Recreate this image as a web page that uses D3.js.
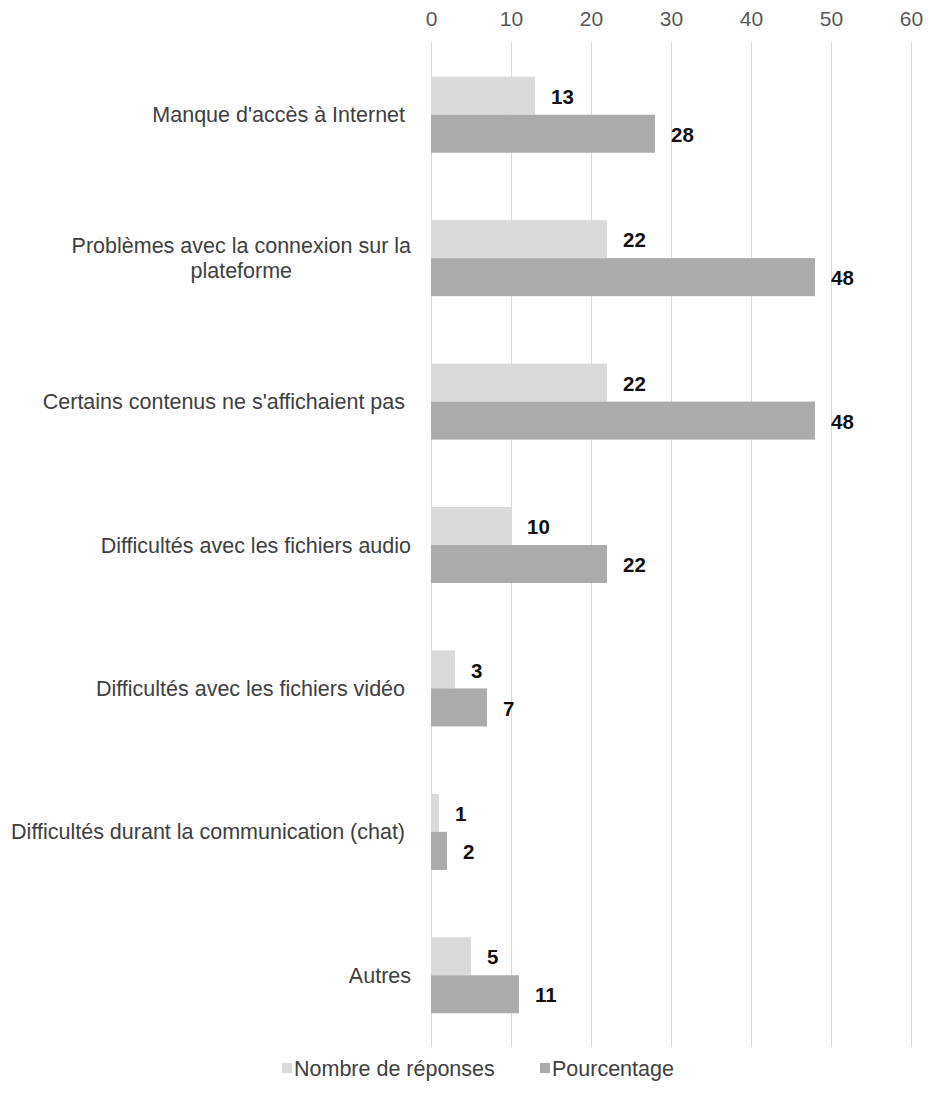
<!DOCTYPE html>
<html>
<head>
<meta charset="utf-8">
<script src="https://cdn.jsdelivr.net/npm/d3@7"></script>
<style>
  html, body { margin: 0; padding: 0; background: #ffffff; }
  svg { display: block; font-family: "Liberation Sans", Arial, sans-serif; }
</style>
</head>
<body>
<svg id="chart" width="928" height="1108"></svg>
<script>
// Categories (each entry may hold several lines)
const categories = [
  ["Manque d'accès à Internet "],
  ["Problèmes avec la connexion sur la", "plateforme"],
  ["Certains contenus ne s'affichaient pas "],
  ["Difficultés avec les fichiers audio"],
  ["Difficultés avec les fichiers vidéo "],
  ["Difficultés durant la communication (chat) "],
  ["Autres"]
];
const seriesNames = ["Nombre de réponses", "Pourcentage"];
const nombre = [13, 22, 22, 10, 3, 1, 5];
const pourcentage = [28, 48, 48, 22, 7, 2, 11];
const tickValues = [0, 10, 20, 30, 40, 50, 60];

const colors = ["#dadada", "#ababab"];
const labelFont = "21.5px";

const svg = d3.select("#chart");
const keys = categories.map((c, i) => i);

const x = d3.scaleLinear().domain([0, 60]).range([431, 911]);
const y = d3.scaleBand().domain(keys).range([43, 1047])
  .paddingInner(0.47).paddingOuter(0.235);
const ySub = d3.scaleBand().domain([0, 1]).range([0, y.bandwidth()]);

// Vertical gridlines
svg.append("g").selectAll("line").data(tickValues).join("line")
  .attr("x1", d => x(d) + 0.5).attr("x2", d => x(d) + 0.5)
  .attr("y1", 42).attr("y2", 1047)
  .attr("stroke", "#d9d9d9").attr("stroke-width", 1);

// Top axis labels
const axis = d3.axisTop(x).tickValues(tickValues).tickSize(0).tickPadding(0);
const gAxis = svg.append("g").attr("transform", "translate(0,26)").call(axis);
gAxis.select(".domain").remove();
gAxis.selectAll("text")
  .attr("fill", "#595959")
  .style("font-family", "Liberation Sans, Arial, sans-serif")
  .style("font-size", "21px");

// Bars
const rows = keys.map(i => [nombre[i], pourcentage[i]]);
const groups = svg.append("g").selectAll("g").data(rows).join("g")
  .attr("transform", (d, i) => `translate(0,${y(i)})`);

groups.selectAll("rect").data(d => d).join("rect")
  .attr("x", x(0))
  .attr("y", (d, j) => ySub(j))
  .attr("width", d => x(d) - x(0))
  .attr("height", ySub.bandwidth())
  .attr("fill", (d, j) => colors[j]);

// Value labels
groups.selectAll("text").data(d => d).join("text")
  .attr("x", d => x(d) + 16)
  .attr("y", (d, j) => ySub(j) + ySub.bandwidth() / 2 + 1)
  .attr("dy", "0.35em")
  .attr("font-size", "20.5px")
  .attr("font-weight", "bold")
  .attr("fill", "#111111")
  .text(d => d);

// Category labels
const labelRight = 411;
const catG = svg.append("g");
categories.forEach((lines, i) => {
  const cy = y(i) + y.bandwidth() / 2;
  const lh = 25;
  const probe = catG.append("text")
    .attr("font-size", labelFont)
    .style("white-space", "pre")
    .text(lines[0]);
  const w0 = probe.node().getComputedTextLength();
  probe.remove();
  lines.forEach((line, k) => {
    const ly = cy + (k - (lines.length - 1) / 2) * lh;
    catG.append("text")
      .attr("x", lines.length > 1 ? labelRight - w0 / 2 : labelRight)
      .attr("y", ly)
      .attr("dy", "0.35em")
      .attr("text-anchor", lines.length > 1 ? "middle" : "end")
      .attr("font-size", labelFont)
      .attr("fill", "#404040")
      .style("white-space", "pre")
      .text(line);
  });
});

// Legend
const legend = svg.append("g").attr("transform", "translate(0,1068)");
const legendX = [282, 540];
seriesNames.forEach((name, j) => {
  legend.append("rect")
    .attr("x", legendX[j]).attr("y", -5)
    .attr("width", 10).attr("height", 10)
    .attr("fill", colors[j]);
  legend.append("text")
    .attr("x", legendX[j] + 12).attr("y", 0).attr("dy", "0.35em")
    .attr("font-size", labelFont).attr("fill", "#404040")
    .text(name);
});
</script>
</body>
</html>
